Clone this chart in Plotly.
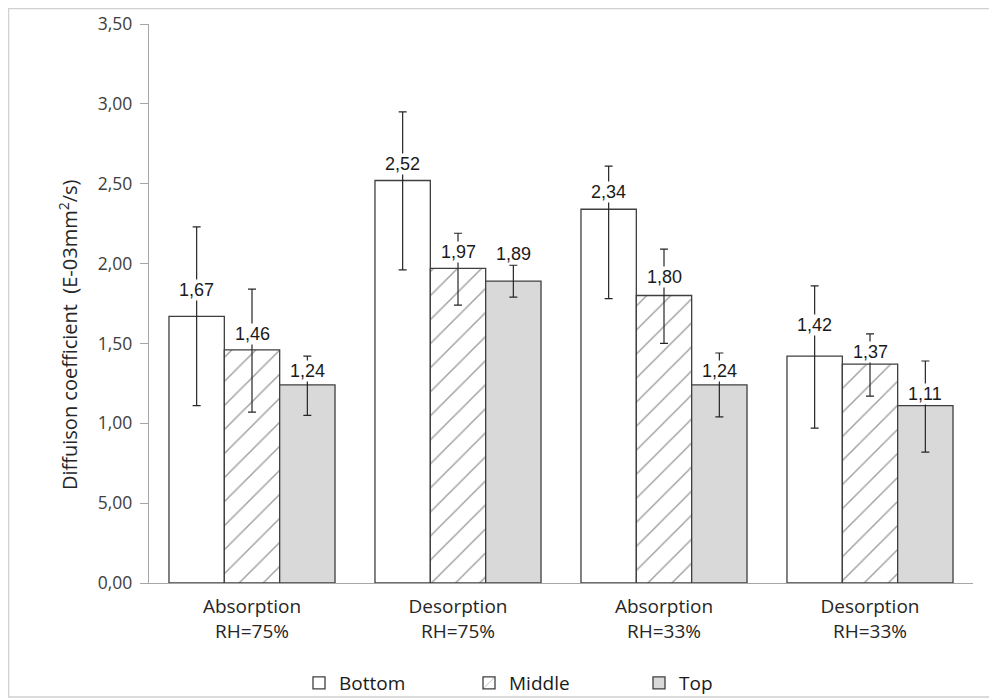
import plotly.graph_objects as go

categories = ["Absorption<br>RH=75%", "Desorption<br>RH=75%", "Absorption<br>RH=33%", "Desorption<br>RH=33%"]
series_names = ["Bottom", "Middle", "Top"]
bottom = [1.67, 2.52, 2.34, 1.42]
middle = [1.46, 1.97, 1.80, 1.37]
top = [1.24, 1.89, 1.24, 1.11]
bottom_err_plus = [0.56, 0.43, 0.27, 0.44]
bottom_err_minus = [0.56, 0.56, 0.56, 0.45]
middle_err_plus = [0.38, 0.22, 0.29, 0.19]
middle_err_minus = [0.39, 0.23, 0.30, 0.20]
top_err_plus = [0.18, 0.10, 0.20, 0.28]
top_err_minus = [0.19, 0.10, 0.20, 0.29]
y_tickvals = [0, 0.5, 1.0, 1.5, 2.0, 2.5, 3.0, 3.5]
y_ticktext = ["0,00", "5,00", "1,00", "1,50", "2,00", "2,50", "3,00", "3,50"]
y_title = "Diffuison coefficient  (E-03mm<sup>2</sup>/s)"

# label vertical offsets (style)
label_dy = [[26, 16, 14], [17, 16, 27], [17, 19, 14], [31, 12, 12]]

values = [bottom, middle, top]
err_plus = [bottom_err_plus, middle_err_plus, top_err_plus]
err_minus = [bottom_err_minus, middle_err_minus, top_err_minus]

fills = ["white", "white", "#d9d9d9"]
patterns = [dict(shape=""), dict(shape="/", size=17, solidity=0.08, fgcolor="#3a3a3a", bgcolor="white"), dict(shape="")]

x_pos = list(range(len(categories)))
bargap = 0.194
bw = (1 - bargap) / 3

OFF = 8  # page body margin
W, H = 997 - OFF, 700 - OFF
ML, MT = 149 - OFF, 24 - OFF
MR = W - (973 - OFF)
MB = H - (583 - OFF)
PW, PH = W - ML - MR, H - MT - MB

def px_x(p):
    return (p - OFF - ML) / PW

def px_y(p):
    return (H - MB - (p - OFF)) / PH

fig = go.Figure()
for j, name in enumerate(series_names):
    fig.add_trace(go.Bar(
        x=x_pos, y=values[j], name=name,
        marker=dict(color=fills[j], line=dict(color="#3f3f3f", width=1.3), pattern=patterns[j]),
        error_y=dict(type="data", array=err_plus[j], arrayminus=err_minus[j],
                     color="#262626", thickness=1.2, width=4),
    ))

annotations = []
for j in range(3):
    for i in x_pos:
        v = values[j][i]
        annotations.append(dict(
            x=i + (j - 1) * bw, y=v, xref="x", yref="y",
            text=f"{v:.2f}".replace(".", ","), showarrow=False,
            yanchor="middle", yshift=label_dy[i][j],
            font=dict(family="Liberation Sans, Arial", size=18, color="#1a1a1a"),
            bgcolor="white", borderpad=0,
        ))
annotations.append(dict(
    x=px_x(68), y=px_y(335), xref="paper", yref="paper", text=y_title,
    textangle=-90, showarrow=False, xanchor="center", yanchor="middle",
    font=dict(family="Open Sans", size=20, color="#262626"),
))

fig.update_layout(
    width=W, height=H,
    margin=dict(l=ML, r=MR, t=MT, b=MB, autoexpand=False),
    paper_bgcolor="white", plot_bgcolor="white",
    barmode="group", bargap=bargap, bargroupgap=0,
    showlegend=True,
    legend=dict(orientation="h", x=px_x(299), xanchor="left", y=px_y(683), yanchor="middle",
                bgcolor="rgba(0,0,0,0)",
                font=dict(family="Open Sans", size=19, color="#1a1a1a"),
                entrywidth=125, entrywidthmode="pixels", traceorder="normal"),
    annotations=annotations,
    font=dict(family="Open Sans", color="#404040"),
    xaxis=dict(range=[-0.5, 3.5], tickvals=x_pos, ticktext=categories,
               showline=True, linecolor="#a6a6a6", linewidth=1.3,
               ticks="outside", ticklen=6, tickcolor="rgba(0,0,0,0)",
               showgrid=False, zeroline=False, automargin=False,
               tickfont=dict(family="Open Sans", size=19, color="#262626")),
    yaxis=dict(range=[0, 3.5], tickvals=y_tickvals, ticktext=y_ticktext,
               showline=True, linecolor="#a6a6a6", linewidth=1.3, ticks="outside",
               ticklen=8, tickcolor="#a6a6a6", showgrid=False, zeroline=False,
               automargin=False, ticklabelstandoff=4,
               tickfont=dict(family="Open Sans", size=17.5, color="#404040")),
    shapes=[dict(type="rect", xref="paper", yref="paper",
                 x0=px_x(8.5), x1=px_x(1010), y0=px_y(697), y1=px_y(8.5),
                 line=dict(color="#d0d0d0", width=1.5), fillcolor="rgba(0,0,0,0)", layer="below")],
)

fig.write_html("out.html")
